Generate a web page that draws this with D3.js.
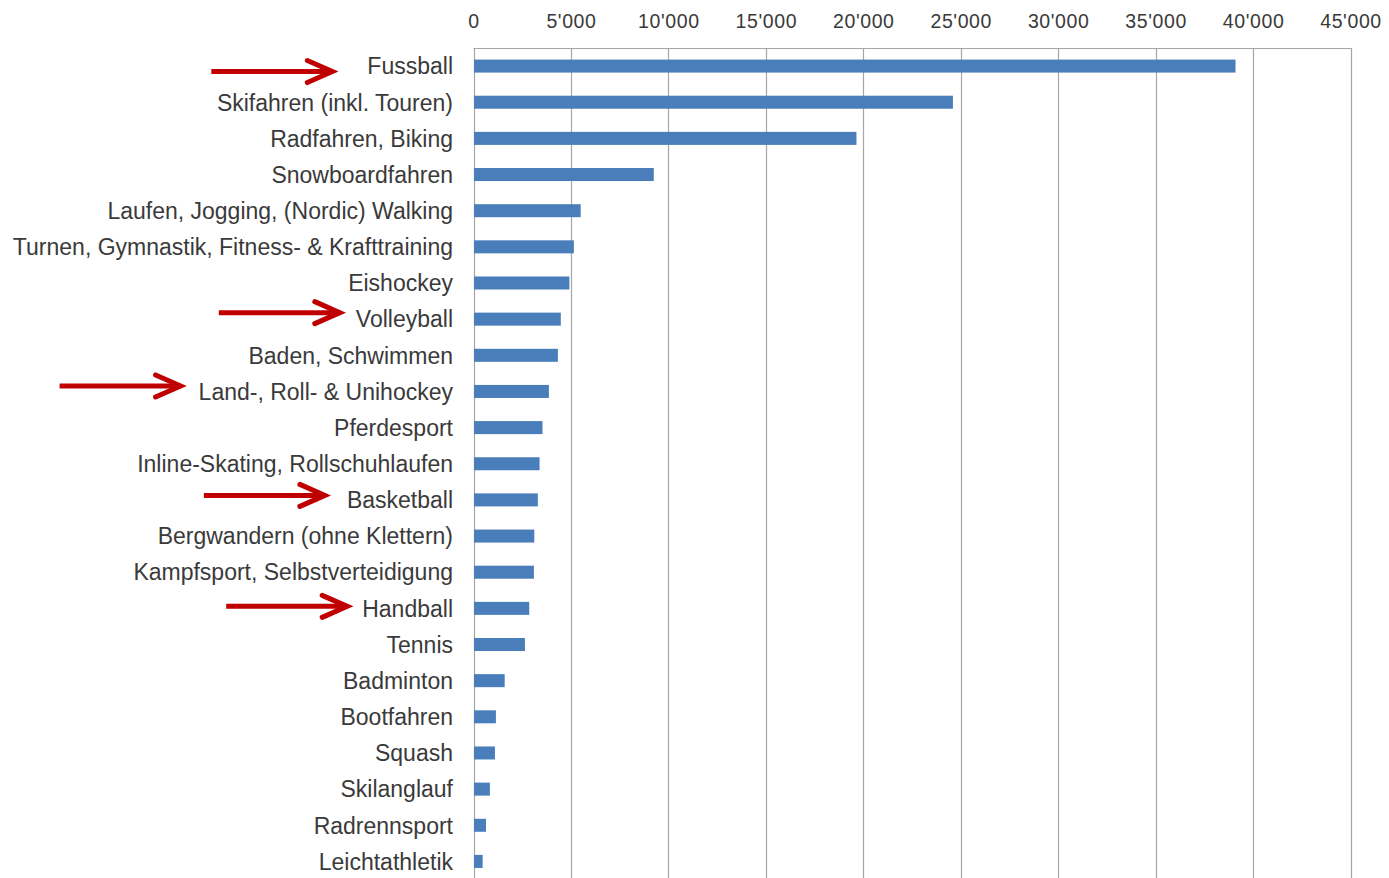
<!DOCTYPE html>
<html>
<head>
<meta charset="utf-8">
<script src="https://cdn.jsdelivr.net/npm/d3@7"></script>
<style>
  html, body { margin: 0; padding: 0; background: #fff; }
  svg { display: block; }
</style>
</head>
<body>
<svg id="chart" width="1389" height="878"></svg>
<script>
// Sport categories, top to bottom
const categories = [
  "Fussball",
  "Skifahren (inkl. Touren)",
  "Radfahren, Biking",
  "Snowboardfahren",
  "Laufen, Jogging, (Nordic) Walking",
  "Turnen, Gymnastik, Fitness- & Krafttraining",
  "Eishockey",
  "Volleyball",
  "Baden, Schwimmen",
  "Land-, Roll- & Unihockey",
  "Pferdesport",
  "Inline-Skating, Rollschuhlaufen",
  "Basketball",
  "Bergwandern (ohne Klettern)",
  "Kampfsport, Selbstverteidigung",
  "Handball",
  "Tennis",
  "Badminton",
  "Bootfahren",
  "Squash",
  "Skilanglauf",
  "Radrennsport",
  "Leichtathletik"
];

// Number of cases per sport
const values = [
  39100, 24600, 19650, 9250, 5500, 5150, 4920, 4480, 4330, 3870, 3540, 3390,
  3300, 3120, 3100, 2860, 2640, 1600, 1150, 1100, 840, 640, 470
];

// Axis ticks
const ticks = [0, 5000, 10000, 15000, 20000, 25000, 30000, 35000, 40000, 45000];

// Highlighted ball sports
const highlighted = ["Fussball", "Volleyball", "Land-, Roll- & Unihockey", "Basketball", "Handball"];
const arrowGap = [35, 16, 18, 22, 15];
const arrowShift = [5.5, -6.5, -5.5, -4.5, -2];

const svg = d3.select("#chart");
const W = 1389, H = 878;
svg.append("rect").attr("width", W).attr("height", H).attr("fill", "#fff");

const plot = { left: 473.5, right: 1350.5, top: 48, bottom: 879.5 };

const x = d3.scaleLinear().domain([0, 45000]).range([plot.left, plot.right]);
const y = d3.scaleBand().domain(categories).range([plot.top, plot.bottom])
  .paddingInner(0.64).paddingOuter(0.32);

const fmt = d3.formatLocale({ decimal: ".", thousands: "'", grouping: [3], currency: ["", ""] }).format(",");

// vertical gridlines
svg.append("g").selectAll("line").data(ticks).join("line")
  .attr("x1", d => Math.round(x(d)) + 0.5).attr("x2", d => Math.round(x(d)) + 0.5)
  .attr("y1", plot.top).attr("y2", H)
  .attr("stroke", "#a6a6a6").attr("stroke-width", 1.2);

// top border
svg.append("line")
  .attr("x1", x(0)).attr("x2", x(45000) + 1)
  .attr("y1", plot.top + 0.5).attr("y2", plot.top + 0.5)
  .attr("stroke", "#a6a6a6").attr("stroke-width", 1.2);

// top axis labels
const axis = d3.axisTop(x).tickValues(ticks).tickFormat(fmt).tickSize(0).tickPadding(0);
const ax = svg.append("g").attr("transform", "translate(0,28)").call(axis);
ax.select(".domain").remove();
ax.selectAll("text")
  .attr("dy", 0)
  .attr("font-family", "'Liberation Sans', Arial, sans-serif")
  .attr("font-size", 19.5)
  .attr("letter-spacing", "0.6px")
  .attr("fill", "#3a3a3a");

// bars
svg.append("g").selectAll("rect").data(categories).join("rect")
  .attr("x", x(0) + 0.5)
  .attr("y", d => y(d))
  .attr("width", (d, i) => x(values[i]) - x(0) - 0.5)
  .attr("height", y.bandwidth())
  .attr("fill", "#4a7ebb");

// category labels
const labels = svg.append("g").selectAll("text").data(categories).join("text")
  .attr("x", 453)
  .attr("y", d => y(d) + y.bandwidth() / 2)
  .attr("dy", "0.36em")
  .attr("text-anchor", "end")
  .attr("font-family", "'Liberation Sans', Arial, sans-serif")
  .attr("font-size", 23)
  .attr("fill", "#3a3a3a")
  .text(d => d);

// red arrows pointing at the highlighted sports
const arrowLen = 121;
const arrows = svg.append("g");
highlighted.forEach((name, k) => {
  const node = labels.filter(d => d === name).node();
  const bb = node.getBBox();
  const tip = bb.x - arrowGap[k];
  const cy = y(name) + y.bandwidth() / 2 + arrowShift[k];
  arrows.append("line")
    .attr("x1", tip - arrowLen).attr("x2", tip - 3)
    .attr("y1", cy).attr("y2", cy)
    .attr("stroke", "#c00000").attr("stroke-width", 5);
  arrows.append("path")
    .attr("d", `M${tip - 25},${cy - 11} L${tip},${cy} L${tip - 25},${cy + 11}`)
    .attr("fill", "none")
    .attr("stroke", "#c00000").attr("stroke-width", 5)
    .attr("stroke-linecap", "round").attr("stroke-linejoin", "miter");
});
</script>
</body>
</html>
